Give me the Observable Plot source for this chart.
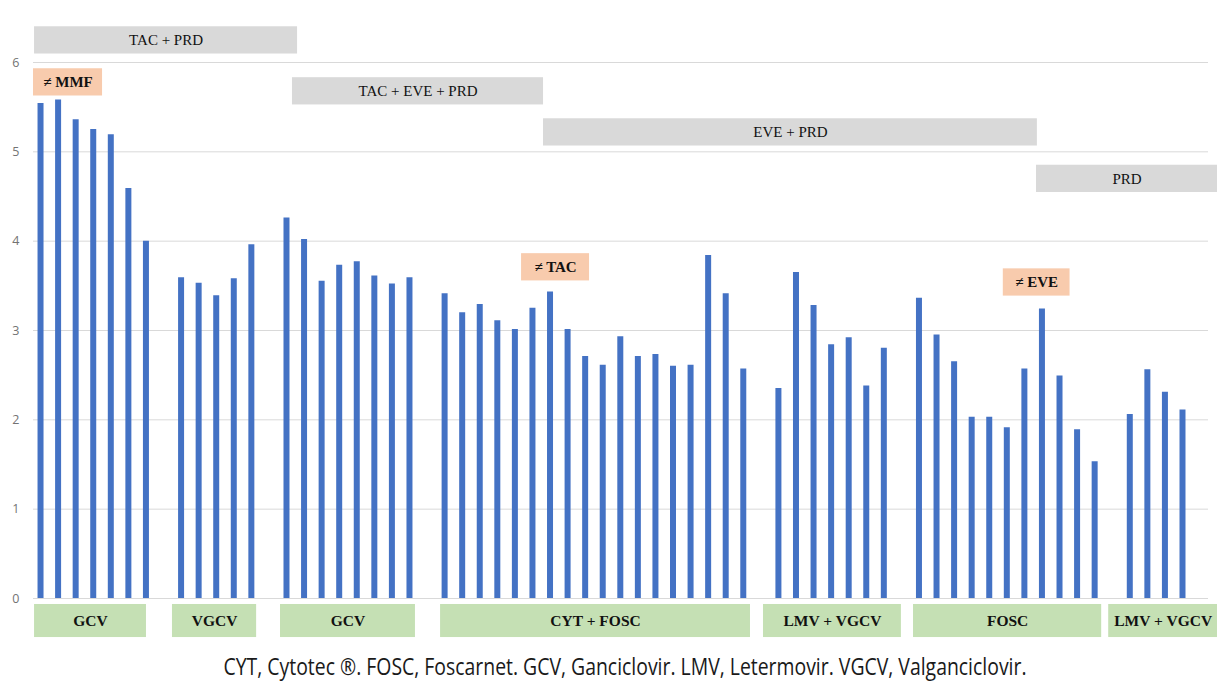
<!DOCTYPE html>
<html>
<head>
<meta charset="utf-8">
<script src="https://cdn.jsdelivr.net/npm/d3@7"></script>
<script src="https://cdn.jsdelivr.net/npm/@observablehq/plot@0.6"></script>
<style>
  html, body { margin: 0; padding: 0; background: #fff; }
  #chart { width: 1217px; }
  #caption { width: 1217px; height: 37px; position: relative; overflow: visible; }
  #caption span { position: absolute; top: 5px; left: 625px; white-space: nowrap;
    font-family: "Open Sans", sans-serif; font-size: 23px; color: #1a1a1a;
    transform-origin: center top; }
</style>
</head>
<body>
<div id="chart"></div>
<div id="caption"><span id="captext">CYT, Cytotec ®. FOSC, Foscarnet. GCV, Ganciclovir. LMV, Letermovir. VGCV, Valganciclovir.</span></div>
<script>
// ---- data ----
const treatments = ["GCV", "VGCV", "GCV", "CYT + FOSC", "LMV + VGCV", "FOSC", "LMV + VGCV"];
const gcv1 = [5.54, 5.58, 5.36, 5.25, 5.19, 4.59, 4.00];
const vgcv1 = [3.59, 3.53, 3.39, 3.58, 3.96];
const gcv2 = [4.26, 4.02, 3.55, 3.73, 3.77, 3.61, 3.52, 3.59];
const cytFosc = [3.41, 3.20, 3.29, 3.11, 3.01, 3.25, 3.43, 3.01, 2.71, 2.61, 2.93, 2.71, 2.73, 2.60, 2.61, 3.84, 3.41, 2.57];
const lmvVgcv1 = [2.35, 3.65, 3.28, 2.84, 2.92, 2.38, 2.80];
const fosc = [3.36, 2.95, 2.65, 2.03, 2.03, 1.91, 2.57, 3.24, 2.49, 1.89, 1.53];
const lmvVgcv2 = [2.06, 2.56, 2.31, 2.11];
const seriesValues = [gcv1, vgcv1, gcv2, cytFosc, lmvVgcv1, fosc, lmvVgcv2];
const yTicks = [0, 1, 2, 3, 4, 5, 6];

// treatment boxes (span in measurement slots)
const treatmentFrom = [-0.34, 7.51, 13.66, 22.77, 41.15, 49.69, 60.8];
const treatmentTo = [6.03, 12.3, 21.34, 40.41, 49.0, 60.4, 67.0];

// immunosuppression regimens (span in measurement slots, row level in y units)
const regimens = ["TAC + PRD", "TAC + EVE + PRD", "EVE + PRD", "PRD"];
const regimenFrom = [-0.34, 14.34, 28.63, 56.69];
const regimenTo = [14.63, 28.63, 56.74, 67.0];
const regimenTop = [6.40, 5.83, 5.37, 4.85];

// drug withdrawals
const withdrawals = ["≠ MMF", "≠ TAC", "≠ EVE"];
const withdrawalFrom = [-0.4, 27.38, 54.8];
const withdrawalTo = [3.53, 31.25, 58.6];
const withdrawalTop = [5.93, 3.86, 3.69];

// ---- build tables ----
const bars = [];
const groupBoxes = [];
let slot = 0;
seriesValues.forEach((vals, g) => {
  vals.forEach(v => { bars.push({slot, value: v, group: treatments[g]}); slot++; });
  groupBoxes.push({label: treatments[g], from: treatmentFrom[g], to: treatmentTo[g]});
  slot++; // empty slot between treatment groups
});
const regimenBoxes = regimens.map((label, i) => ({label, from: regimenFrom[i], to: regimenTo[i], top: regimenTop[i]}));
const withdrawalBoxes = withdrawals.map((label, i) => ({label, from: withdrawalFrom[i], to: withdrawalTo[i], top: withdrawalTop[i]}));

const boxH = 0.305;   // height of annotation boxes in y units
const serif = "'Liberation Serif', 'DejaVu Serif', serif";

const chart = Plot.plot({
  width: 1217,
  height: 645,
  marginLeft: 33,
  marginRight: 9,
  marginTop: 62,
  marginBottom: 47,
  style: {background: "white", overflow: "visible"},
  x: {domain: [-0.4, 66.48], axis: null},
  y: {domain: [0, 6], axis: null},
  marks: [
    Plot.gridY(yTicks, {stroke: "#d9d9d9", strokeOpacity: 1, strokeWidth: 1}),
    Plot.axisY(yTicks, {tickSize: 0, tickPadding: 14, tickFormat: d3.format("d"), fill: "#737373", fontSize: 12.5, fontFamily: "'Open Sans', sans-serif"}),
    Plot.ruleX(bars, {x: "slot", y1: 0, y2: "value", stroke: "#4472C4", strokeWidth: 6}),
    // regimen boxes
    Plot.rect(regimenBoxes, {x1: "from", x2: "to", y1: d => d.top - boxH, y2: "top", fill: "#d9d9d9"}),
    Plot.text(regimenBoxes, {x: d => (d.from + d.to) / 2, y: d => d.top - boxH / 2, text: "label",
      fontFamily: serif, fontSize: 15, fill: "#111"}),
    // withdrawal boxes
    Plot.rect(withdrawalBoxes, {x1: "from", x2: "to", y1: d => d.top - boxH, y2: "top", fill: "#f8cbad"}),
    Plot.text(withdrawalBoxes, {x: d => (d.from + d.to) / 2, y: d => d.top - boxH / 2, text: "label",
      fontFamily: serif, fontSize: 15, fontWeight: "bold", fill: "#111"}),
    // treatment boxes
    Plot.rect(groupBoxes, {x1: "from", x2: "to", y1: -0.067, y2: -0.437, fill: "#c5e0b4"}),
    Plot.text(groupBoxes, {x: d => (d.from + d.to) / 2, y: -0.252, text: "label",
      fontFamily: serif, fontSize: 15.5, fontWeight: "bold", fill: "#111"})
  ]
});
document.getElementById("chart").appendChild(chart);

// condense caption to the reference width
const cap = document.getElementById("captext");
const w = cap.getBoundingClientRect().width;
const s = 803 / w;
cap.style.transform = `translateX(-50%) scaleX(${s})`;
</script>
</body>
</html>
